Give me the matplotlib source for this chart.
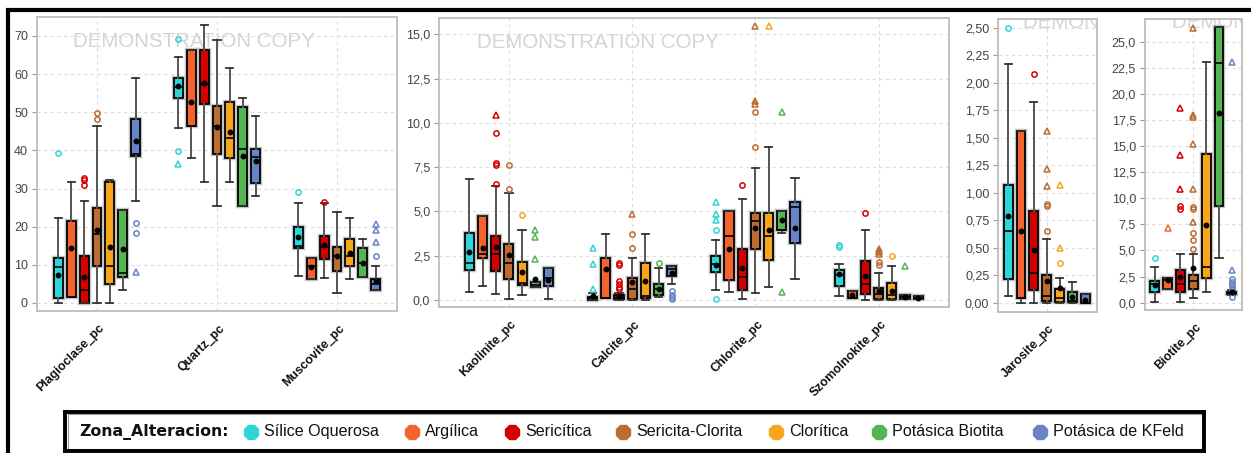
import numpy as np
import matplotlib
matplotlib.use("Agg")
import matplotlib.pyplot as plt
from matplotlib import font_manager
from matplotlib.patches import Rectangle
import matplotlib.patheffects as pe
from matplotlib.transforms import ScaledTranslation

# ---------------------------------------------------------------- data
zones = ["Sílice Oquerosa", "Argílica", "Sericítica", "Sericita-Clorita",
         "Clorítica", "Potásica Biotita", "Potásica de KFeld"]
zone_colors = ["#30d5d8", "#f4632d", "#d40000", "#bb6c32",
               "#f9a51b", "#55b552", "#6784c4"]

# per zone: (lower whisker, Q1, median, Q3, upper whisker, mean)
plagioclase_box = [(0.0, 1.2, 9.5, 11.7, 22.2, 7.4),
                   (1.5, 1.5, 1.5, 21.5, 31.8, 14.3),
                   (0.0, 0.0, 3.3, 12.3, 26.8, 6.8),
                   (0.0, 9.8, 18.0, 25.0, 46.5, 19.1),
                   (0.0, 5.1, 9.8, 31.6, 32.2, 14.8),
                   (3.5, 6.7, 7.8, 24.5, 24.5, 14.2),
                   (26.7, 38.5, 39.0, 48.2, 59.0, 42.5)]
plagioclase_out = [[39.4], [], [32.8, 32.3, 31.0], [49.9, 48.3], [], [], [20.9, 18.4]]
plagioclase_far = [[], [], [], [], [], [], [8.0]]

quartz_box = [(45.9, 53.7, 56.5, 58.9, 64.4, 56.8),
              (38.0, 46.3, 46.5, 66.2, 66.2, 52.8),
              (31.7, 52.3, 57.3, 66.2, 72.8, 57.7),
              (25.5, 39.0, 46.5, 51.6, 69.0, 46.2),
              (31.7, 37.9, 43.3, 52.7, 61.5, 44.9),
              (25.5, 25.5, 40.5, 51.5, 53.7, 38.5),
              (28.0, 31.5, 38.2, 40.5, 49.0, 37.3)]
quartz_out = [[69.1, 39.9], [], [], [], [], [], []]
quartz_far = [[36.4], [], [], [], [], [], []]

muscovite_box = [(7.0, 14.3, 14.9, 20.0, 26.3, 17.4),
                 (6.3, 6.3, 9.8, 11.7, 11.7, 9.4),
                 (6.6, 11.6, 14.8, 17.5, 26.3, 15.2),
                 (2.5, 8.5, 12.4, 14.8, 23.8, 12.3),
                 (6.3, 9.8, 12.2, 16.8, 22.3, 13.1),
                 (6.7, 6.7, 10.6, 14.5, 16.8, 10.6),
                 (3.5, 3.5, 4.9, 6.2, 9.8, 5.8)]
muscovite_out = [[29.1], [], [26.4], [], [], [], [12.3]]
muscovite_far = [[], [], [], [], [], [], [20.6, 19.1, 16.1]]

kaolinite_box = [(0.43, 1.69, 2.11, 3.80, 6.83, 2.69),
                 (0.81, 2.35, 2.58, 4.76, 4.76, 2.95),
                 (0.32, 1.66, 2.58, 3.59, 6.46, 2.99),
                 (0.06, 1.17, 2.09, 3.16, 6.06, 2.54),
                 (0.28, 0.83, 0.94, 2.13, 3.93, 1.60),
                 (0.75, 0.75, 0.85, 1.02, 1.02, 1.19),
                 (0.06, 0.81, 1.24, 1.83, 1.83, 1.13)]
kaolinite_out = [[], [], [9.43, 7.74, 7.64, 6.55], [7.64, 6.29], [4.80], [], []]
kaolinite_far = [[], [], [10.45], [], [], [3.95, 3.58, 2.33], []]

calcite_box = [(0.0, 0.0, 0.1, 0.19, 0.38, 0.2),
               (0.09, 0.09, 0.09, 2.35, 3.75, 1.73),
               (0.0, 0.05, 0.1, 0.30, 0.40, 0.23),
               (0.0, 0.06, 0.62, 1.24, 2.35, 1.02),
               (0.0, 0.09, 0.24, 2.09, 3.75, 1.07),
               (0.15, 0.26, 0.64, 0.90, 1.81, 0.64),
               (0.90, 1.34, 1.73, 1.90, 1.90, 1.54)]
calcite_out = [[], [], [2.1, 1.95, 1.05, 0.9, 0.75, 0.6], [3.73, 2.94], [], [2.07],
               [0.53, 0.30, 0.15, 0.06]]
calcite_far = [[2.94, 2.01, 0.60], [], [], [4.86], [], [], []]

chlorite_box = [(0.55, 1.56, 2.03, 2.47, 3.39, 2.0),
                (0.47, 1.15, 3.59, 5.04, 5.04, 2.90),
                (0.06, 0.58, 1.30, 2.86, 5.70, 1.83),
                (0.38, 2.86, 4.44, 4.89, 7.47, 4.07),
                (0.72, 2.24, 3.59, 4.89, 8.62, 3.93),
                (3.76, 3.93, 3.95, 5.04, 5.04, 4.52),
                (1.17, 3.22, 5.23, 5.53, 6.87, 4.07)]
chlorite_out = [[3.93, 0.06], [], [6.49], [10.60, 8.64], [], [], []]
chlorite_far = [[5.51, 4.87, 4.54], [], [], [15.47, 11.25, 11.05], [15.47], [10.6, 0.45], []]

szomolnokite_box = [(0.21, 0.79, 1.41, 1.71, 2.05, 1.47),
                    (0.09, 0.09, 0.09, 0.49, 0.49, 0.26),
                    (0.0, 0.36, 0.90, 2.20, 3.93, 1.37),
                    (0.0, 0.06, 0.34, 0.70, 1.52, 0.53),
                    (0.0, 0.05, 0.26, 0.94, 1.94, 0.53),
                    (0.05, 0.05, 0.15, 0.26, 0.26, 0.19),
                    (0.05, 0.05, 0.10, 0.20, 0.20, 0.13)]
szomolnokite_out = [[3.11, 3.0], [], [4.93], [2.15, 1.98], [2.47], [], []]
szomolnokite_far = [[], [], [], [2.86, 2.78, 2.70, 2.62], [], [1.94], []]

jarosite_box = [(0.06, 0.215, 0.648, 1.073, 2.17, 0.79),
                (0.0, 0.04, 0.04, 1.564, 1.564, 0.648),
                (0.0, 0.118, 0.267, 0.836, 1.824, 0.48),
                (0.0, 0.012, 0.06, 0.248, 0.58, 0.197),
                (0.0, 0.01, 0.045, 0.127, 0.227, 0.136),
                (0.0, 0.005, 0.015, 0.094, 0.19, 0.048),
                (0.0, 0.0, 0.0, 0.076, 0.076, 0.024)]
jarosite_out = [[2.494], [], [2.08], [0.897, 0.88, 0.648], [0.358], [], []]
jarosite_far = [[], [], [], [1.56, 1.215, 1.064], [1.067, 0.494], [], []]

biotite_box = [(0.10, 0.99, 1.79, 2.08, 3.38, 1.69),
               (1.31, 1.31, 2.20, 2.36, 2.36, 2.20),
               (0.10, 0.99, 1.76, 3.10, 4.69, 2.46),
               (0.45, 1.34, 2.08, 2.68, 4.69, 3.32),
               (0.99, 2.33, 3.38, 14.21, 23.02, 7.44),
               (4.28, 9.29, 22.99, 26.40, 26.40, 18.14),
               (0.75, 0.83, 0.95, 1.05, 1.20, 1.05)]
biotite_out = [[4.28], [], [9.23, 8.97], [9.2, 9.0, 6.64, 6.03, 5.17], [], [],
               [2.30, 2.01, 1.82, 1.60, 1.34, 0.51]]
biotite_far = [[], [7.15], [18.68, 14.18, 10.89],
               [26.34, 17.98, 17.80, 15.17, 10.89, 7.76], [], [], [23.02, 3.13]]

# ---------------------------------------------------------------- layout
W, H = 1251, 453
fig = plt.figure(figsize=(W / 100, H / 100), dpi=100)
fig.patch.set_facecolor("white")

names = {f.name for f in font_manager.fontManager.ttflist}
narrow = "Liberation Sans Narrow" in names
label_family = ["Liberation Sans Narrow", "Liberation Sans"] if narrow else ["Liberation Sans"]
legend_size = 14.5 if narrow else 11.6
mark_size = 17.5 if narrow else 14.8


def px_axes(left, right, top, bottom):
    return fig.add_axes([left / W, 1 - bottom / H, (right - left) / W, (bottom - top) / H])


def comma(fmt):
    return lambda v, _: fmt.format(v).replace(".", ",")


OFF = 0.107
BOXW = 0.074

panels = [
    dict(rect=(37, 397, 17.3, 311), xlim=(-0.5, 2.5), ylim=(-2.1, 74.9),
         ticks=np.arange(0, 71, 10), fmt="{:.0f}", mark=(36, 30),
         cats=["Plagioclase_pc", "Quartz_pc", "Muscovite_pc"],
         boxes=[plagioclase_box, quartz_box, muscovite_box],
         outs=[plagioclase_out, quartz_out, muscovite_out],
         fars=[plagioclase_far, quartz_far, muscovite_far]),
    dict(rect=(439.3, 949, 18.3, 307.3), xlim=(-0.565, 3.571), ylim=(-0.41, 15.9),
         ticks=np.arange(0, 15.01, 2.5), fmt="{:.1f}", mark=(37.5, 30),
         cats=["Kaolinite_pc", "Calcite_pc", "Chlorite_pc", "Szomolnokite_pc"],
         boxes=[kaolinite_box, calcite_box, chlorite_box, szomolnokite_box],
         outs=[kaolinite_out, calcite_out, chlorite_out, szomolnokite_out],
         fars=[kaolinite_far, calcite_far, chlorite_far, szomolnokite_far]),
    dict(rect=(998.3, 1096.7, 19, 311.7), xlim=(-0.403, 0.417), ylim=(-0.082, 2.579),
         ticks=np.arange(0, 2.501, 0.25), fmt="{:.2f}", mark=(25, 9),
         cats=["Jarosite_pc"], boxes=[jarosite_box], outs=[jarosite_out], fars=[jarosite_far]),
    dict(rect=(1145, 1241.7, 19, 310), xlim=(-0.4025, 0.4033), ylim=(-0.70, 27.17),
         ticks=np.arange(0, 25.01, 2.5), fmt="{:.1f}", mark=(26.7, 9),
         cats=["Biotite_pc"], boxes=[biotite_box], outs=[biotite_out], fars=[biotite_far]),
]

halo = [pe.Stroke(linewidth=3.2, foreground="#c4c4c4"), pe.Normal()]

for p in panels:
    ax = px_axes(*p["rect"])
    ax.set_facecolor("white")
    ax.set_xlim(*p["xlim"])
    ax.set_ylim(*p["ylim"])
    for s in ax.spines.values():
        s.set_color("#bdbdbd")
        s.set_linewidth(1.3)
    ax.set_yticks(p["ticks"])
    ax.yaxis.set_major_formatter(plt.FuncFormatter(comma(p["fmt"])))
    ax.tick_params(axis="y", length=3.5, width=0.8, color="#999999", pad=3,
                   labelsize=9, labelcolor="#444444")
    ax.tick_params(axis="x", length=0, pad=8)
    for lab in ax.get_yticklabels():
        lab.set_fontfamily("Liberation Sans")
    cat_pos = np.arange(len(p["cats"]))
    ax.set_xticks(cat_pos)
    ax.set_xticklabels(p["cats"], rotation=45, ha="right", va="top",
                       rotation_mode="anchor", fontsize=8.9, fontweight="bold",
                       fontfamily="Liberation Sans", color="#111111")
    shift = ScaledTranslation(1.5 / 100, 0, fig.dpi_scale_trans)
    for lab in ax.get_xticklabels():
        lab.set_transform(lab.get_transform() + shift)
    ax.grid(True, color="#dddddd", linestyle=(0, (3, 3)), linewidth=0.8)
    ax.set_axisbelow(True)

    # watermark, clipped to the plotting area
    mark_tr = fig.dpi_scale_trans + ScaledTranslation(
        p["rect"][0] / 100, (H - p["rect"][2]) / 100, fig.dpi_scale_trans)
    wm = ax.text(p["mark"][0] / 100, -p["mark"][1] / 100, "DEMONSTRATION COPY",
                 transform=mark_tr, fontsize=mark_size, family=label_family,
                 color="#d4d4d4", ha="left", va="baseline", zorder=0.5)
    wm.set_clip_on(True)
    wm.set_clip_box(ax.bbox)

    for ci, (bx, outs, fars) in enumerate(zip(p["boxes"], p["outs"], p["fars"])):
        for k in range(7):
            lo, q1, med, q3, hi, mean = bx[k]
            xk = ci + (k - 3) * OFF
            col = zone_colors[k]
            st = dict(whislo=lo, q1=q1, med=med, q3=q3, whishi=hi, mean=mean,
                      fliers=np.array(outs[k]))
            art = ax.bxp([st], positions=[xk], widths=BOXW, capwidths=BOXW * 0.8,
                         patch_artist=True, showmeans=True, showfliers=True,
                         manage_ticks=False,
                         boxprops=dict(facecolor=col, edgecolor="black", linewidth=1.3),
                         medianprops=dict(color="black", linewidth=1.2),
                         whiskerprops=dict(color="#555555", linewidth=1.4),
                         capprops=dict(color="#333333", linewidth=1.3),
                         meanprops=dict(marker="o", markerfacecolor="black",
                                        markeredgecolor="black", markersize=3.2),
                         flierprops=dict(marker="o", markerfacecolor="none",
                                         markeredgecolor=col, markersize=3.8,
                                         markeredgewidth=1.1))
            for b in art["boxes"]:
                b.set_path_effects(halo)
                b.set_zorder(2)
            if fars[k]:
                ax.plot([xk] * len(fars[k]), fars[k], linestyle="none", marker="^",
                        markerfacecolor="none", markeredgecolor=col, markersize=4.2,
                        markeredgewidth=1.1, zorder=3)

# ---------------------------------------------------------------- outer frame
fig.add_artist(Rectangle((8 / W, -0.1), 1.2, (H - 10) / H + 0.1,
                         transform=fig.transFigure, fill=False,
                         edgecolor="black", linewidth=3, clip_on=False))

# ---------------------------------------------------------------- legend
lg = px_axes(65, 1204, 411.7, 451.3)
lg.set_xlim(65, 1204)
lg.set_ylim(0, 1)
lg.set_xticks([])
lg.set_yticks([])
for s in lg.spines.values():
    s.set_linewidth(2.8)
    s.set_color("black")
lg.add_patch(Rectangle((67.5, 0.07), 1134, 0.86, fill=False, edgecolor="#9a9a9a",
                       linewidth=0.8))
lg.text(79.6, 0.5, "Zona_Alteracion:", fontsize=11.3, fontweight="bold",
        family="DejaVu Sans", ha="left", va="center", color="#111111")
marker_x = [251, 412, 512, 623, 776, 879, 1040]
for mx, name, col in zip(marker_x, zones, zone_colors):
    lg.plot([mx], [0.5], marker="8", markersize=11.5, color=col, linestyle="none")
    lg.text(mx + 13, 0.5, name, fontsize=legend_size, family=label_family,
            ha="left", va="center", color="#111111")

fig.savefig("out.png", dpi=100, facecolor="white")
